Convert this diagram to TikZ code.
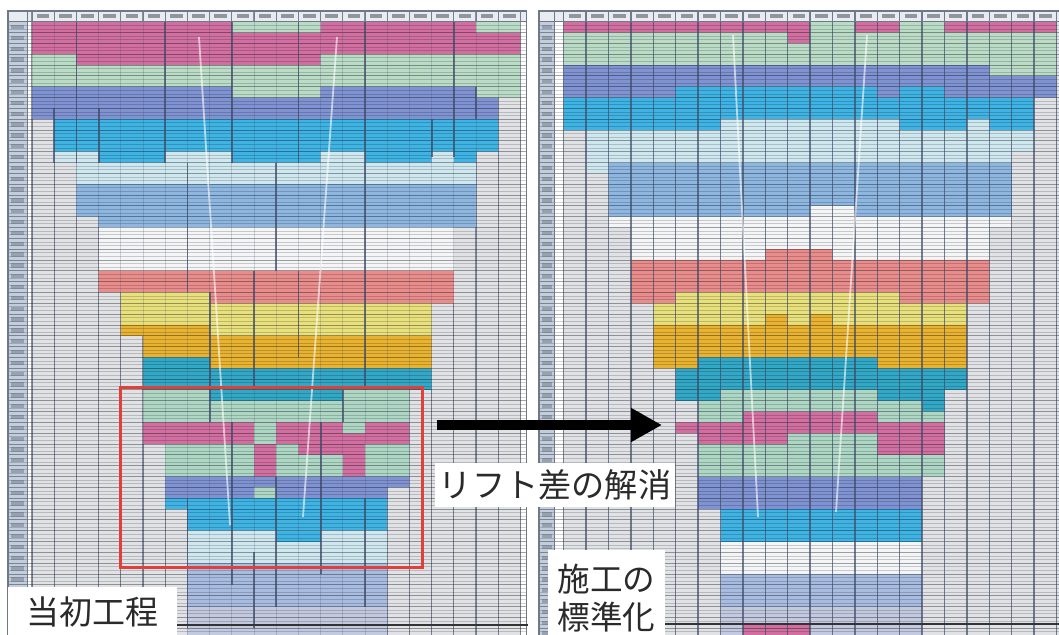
\documentclass[tikz,border=0pt]{standalone}
\usepackage{fontspec}
\newfontfamily\jp{Noto Sans CJK JP}
\usetikzlibrary{arrows.meta}
\definecolor{pk}{HTML}{D06FA0}
\definecolor{gn}{HTML}{BADCC6}
\definecolor{gnb}{HTML}{ADD6C4}
\definecolor{pu}{HTML}{7F92D2}
\definecolor{cy}{HTML}{3FB3E3}
\definecolor{lc}{HTML}{CFE8F0}
\definecolor{sb}{HTML}{8DB6E0}
\definecolor{wh}{HTML}{F3F5F7}
\definecolor{sa}{HTML}{E88D8C}
\definecolor{ye}{HTML}{E8E07C}
\definecolor{orn}{HTML}{E8B331}
\definecolor{tl}{HTML}{33A7C6}
\definecolor{lv}{HTML}{A8BCE2}
\definecolor{lvb}{HTML}{C3CAE0}
\definecolor{bgc}{HTML}{E0E2E6}
\definecolor{gridc}{HTML}{6F7888}
\definecolor{gridd}{HTML}{3E4A66}
\definecolor{rowlab}{HTML}{C2CDDD}
\definecolor{hdr}{HTML}{E8EBEF}
\definecolor{hdrtxt}{HTML}{4A505C}
\definecolor{boxred}{HTML}{E0403A}
\definecolor{txt}{HTML}{2A2A2A}
\tikzset{
  rline/.style={draw=black, opacity=0.36, line width=0.45pt},
  sline/.style={draw=black, opacity=0.18, line width=0.4pt},
  vline/.style={draw=gridc, opacity=0.8, line width=0.6pt},
  vlinedk/.style={draw=gridd, opacity=0.7, line width=0.65pt},
  vfaint/.style={draw=gridd, opacity=0.22, line width=0.5pt},
  vbold/.style={draw=gridd, opacity=0.75, line width=0.9pt},
  glare/.style={draw=white, opacity=0.6, line width=0.9pt},
  labbox/.style={fill=white, inner sep=0pt, text=txt},
}
% #1 row-label left, #2 row-label right, #3 right edge
\newcommand\chartbg[3]{%
  \fill[bgc] (0,0) rectangle (#3,58);
  \fill[white] (#2,-1) rectangle (0,58);
  \fill[rowlab] (#1,0) rectangle (#2,58);
  \fill[hdr] (#1,-1) rectangle (#3,0);
}
\newcommand\hlines[2]{%
  \foreach \k in {0,...,57}{
    \draw[rline] (#1,\k) -- (#2,\k);
    \draw[sline] (#1,\k+0.333) -- (#2,\k+0.333);
    \draw[sline] (#1,\k+0.667) -- (#2,\k+0.667);
  }
}
\newcommand\vlines[1]{\foreach \j in {0,...,22} \draw[#1] (\j,-1) -- (\j,58);}
\newcommand\chartdeco[3]{%
  \foreach \j in {0,...,21} \fill[hdrtxt, opacity=0.55] (\j+0.22,-0.72) rectangle (\j+0.78,-0.3);
  \foreach \k in {0,...,57} \fill[hdrtxt, opacity=0.35] (#1+0.12,\k+0.3) rectangle (#2-0.12,\k+0.7);
  \draw[gridc, line width=0.5pt] (#2,-1) -- (#2,58) (#1,0) -- (#3,0);
  \draw[gridc, line width=0.7pt] (#1,-1) rectangle (#3,58);
}
\begin{document}
\begin{tikzpicture}[x=0.5pt,y=-0.5pt]
\useasboundingbox (0,0) rectangle (1059,634);
\clip (0,0) rectangle (1059,634);
\fill[white] (0,0) rectangle (1059,634);

% ================= left chart =================
\begin{scope}[shift={(32,21.7)},x=11.1pt,y=-5.415pt]
\chartbg{-1.08}{-0.225}{22.27}
\fill[white] (22,0) rectangle (22.27,58);
\vlines{vline}
\fill[pk] (0,0) rectangle (9,3) (13,0) rectangle (20,3) (9,1) rectangle (13,3) (20,1) rectangle (22,3) (2,3) rectangle (13,4);
\fill[gn] (9,0) rectangle (13,1) (20,0) rectangle (22,1) (0,3) rectangle (2,4) (13,3) rectangle (22,4) (0,4) rectangle (22,6) (9,6) rectangle (13,7) (20,6) rectangle (22,7);
\fill[pu] (0,6) rectangle (9,9) (13,6) rectangle (20,9) (9,7) rectangle (13,9) (20,7) rectangle (21,9);
\fill[cy] (1,9) rectangle (21,12) (3,12) rectangle (6,13) (9,12) rectangle (13,13) (15,12) rectangle (18,13) (19,12) rectangle (20,13);
\fill[lc] (1,12) rectangle (3,13) (6,12) rectangle (9,13) (13,12) rectangle (15,13) (18,12) rectangle (19,13) (2,13) rectangle (20,15);
\fill[sb] (2,15) rectangle (20,18) (3,18) rectangle (20,19);
\fill[wh] (3,19) rectangle (19,23);
\fill[sa] (3,23) rectangle (19,25) (8,25) rectangle (19,26);
\fill[ye] (4,25) rectangle (8,26) (4,26) rectangle (18,28) (8,28) rectangle (18,29);
\fill[orn] (4,28) rectangle (8,29) (5,29) rectangle (18,31) (8,31) rectangle (18,32);
\fill[tl] (5,31) rectangle (8,34) (8,32) rectangle (18,34) (8,34) rectangle (14,35);
\fill[gnb] (5,34) rectangle (8,35) (14,34) rectangle (17,35) (5,35) rectangle (17,37);
\fill[pk] (5,37) rectangle (17,39) (14,39) rectangle (15,42) (10,39) rectangle (11,42) (12,39) rectangle (14,40);
\fill[gnb] (10,37) rectangle (11,39) (14,37) rectangle (15,38) (6,39) rectangle (10,42) (11,39) rectangle (12,42) (12,40) rectangle (14,42) (15,39) rectangle (17,42);
\fill[pu] (6,42) rectangle (16,44) (16,42) rectangle (17,43);
\fill[gnb] (10,43) rectangle (11,44);
\fill[cy] (6,44) rectangle (7,45) (7,44) rectangle (16,47);
\fill[lc] (7,47) rectangle (11,50) (13,47) rectangle (16,50) (11,48) rectangle (13,50);
\fill[cy] (11,47) rectangle (13,48);
\fill[lv] (7,50) rectangle (16,54);
\fill[lvb] (7,54) rectangle (16,58);
\hlines{-1.08}{22.27}
\vlines{vfaint}
% merged-cell borders
\foreach \j/\a/\b in {1/8/13, 2/0/13, 3/8/13, 6/0/13, 9/0/13, 12/0/13, 15/0/19, 18/9/12.5, 19/0/12.5, 20/6/9,
  7/13/25, 11/13/23, 10/23/34, 8/25/37, 12/23/31, 15/19/34, 14/34/37, 9/37/52, 11/42/54, 13/37/51, 15/44/54, 10/49/56, 7/44/56}
  \draw[vbold] (\j,\a) -- (\j,\b);
\chartdeco{-1.08}{-0.225}{22.27}
\end{scope}

% ================= right chart =================
\begin{scope}[shift={(563.7,21.7)},x=11.2pt,y=-5.415pt]
\chartbg{-1.1}{-0.39}{22.5}
\fill[pk] (0,0) rectangle (11,1) (13,0) rectangle (15,1) (17,0) rectangle (22,1) (10,1) rectangle (11,2);
\fill[gn] (11,0) rectangle (13,1) (15,0) rectangle (17,1) (0,1) rectangle (10,2) (11,1) rectangle (22,2) (0,2) rectangle (22,4) (19,4) rectangle (22,5);
\fill[pu] (0,4) rectangle (19,5) (0,5) rectangle (22,6) (0,6) rectangle (5,7) (14,6) rectangle (15,7) (17,6) rectangle (22,7);
\fill[cy] (5,6) rectangle (14,7) (15,6) rectangle (17,7) (0,7) rectangle (21,9) (0,9) rectangle (7,10) (15,9) rectangle (18,10) (19,9) rectangle (21,10);
\fill[lc] (7,9) rectangle (15,10) (18,9) rectangle (19,10) (1,10) rectangle (20,13) (20,10) rectangle (21,12) (1,13) rectangle (2,14);
\fill[sb] (2,13) rectangle (20,18);
\fill[wh] (11,17) rectangle (13,18) (2,18) rectangle (20,19) (3,19) rectangle (19,21) (3,21) rectangle (9,22) (12,21) rectangle (19,22);
\fill[sa] (9,21) rectangle (12,22) (3,22) rectangle (19,25) (3,25) rectangle (5,26) (15,25) rectangle (19,26);
\fill[ye] (5,25) rectangle (15,26) (4,26) rectangle (18,28);
\fill[orn] (9,27) rectangle (10,28) (11,27) rectangle (12,28) (4,28) rectangle (18,31) (4,31) rectangle (6,32) (14,31) rectangle (18,32);
\fill[tl] (6,31) rectangle (14,32) (5,32) rectangle (18,34) (5,34) rectangle (7,35) (14,34) rectangle (17,35) (16,35) rectangle (17,36);
\fill[gnb] (7,34) rectangle (14,35) (6,35) rectangle (16,36) (6,36) rectangle (8,37) (14,36) rectangle (17,37) (10,38) rectangle (14,39) (6,39) rectangle (14,40) (6,40) rectangle (17,42);
\fill[pk] (8,36) rectangle (14,37) (5,37) rectangle (17,38) (6,38) rectangle (10,39) (14,38) rectangle (17,40);
\fill[pu] (6,42) rectangle (16,45);
\fill[cy] (7,45) rectangle (16,48);
\fill[wh] (7,48) rectangle (16,51);
\fill[lv] (7,51) rectangle (16,54);
\fill[lvb] (7,54) rectangle (16,57);
\fill[pk] (8,55.7) rectangle (11,58);
\hlines{-1.1}{22.5}
\vlines{vlinedk}
\chartdeco{-1.1}{-0.39}{22.5}
\end{scope}

% glare lines of the photo
\draw[glare] (199,37) -- (230,525);
\draw[glare] (337,37) -- (303,517);
\draw[glare] (733,35) -- (758,517);
\draw[glare] (867,35) -- (836,512);

% bottom rules
\draw[black!80, line width=0.9pt] (177,625) -- (528,625);
\draw[black!80, line width=0.9pt] (665,624) -- (1059,624);

% red frame
\draw[boxred, line width=1.5pt] (120,387) rectangle (422,567);

% labels (white boxes reach the lower edge of the picture)
\node[labbox, minimum width=84.5pt, minimum height=30pt, text depth=6pt, font=\jp\fontsize{16.5pt}{20pt}\selectfont] (orig) at (92.5,617) {当初工程};
\node[labbox, minimum width=120pt, minimum height=22pt, font=\jp\fontsize{16.6pt}{20pt}\selectfont] (lift) at (555,485) {リフト差の解消};
\node[labbox, minimum width=58.5pt, minimum height=48pt, align=center, anchor=north, font=\jp\fontsize{16.3pt}{19pt}\selectfont] (std) at (606.5,550) {施工の\\標準化};

% arrow
\coordinate (arrS) at (437,425);
\coordinate (arrE) at (662,425);
\draw[black, line width=5pt, -{Triangle[length=15.5pt,width=16pt]}] (arrS) -- (arrE);
\end{tikzpicture}
\end{document}
